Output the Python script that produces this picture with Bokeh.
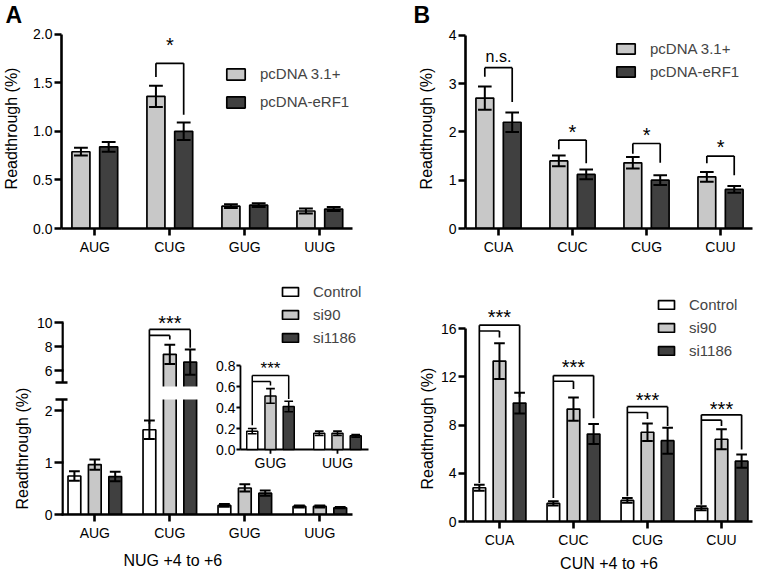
from bokeh.plotting import figure
from bokeh.models import (Range1d, FixedTicker, PrintfTickFormatter, Legend, LegendItem, Title)
from bokeh.core.properties import value
from bokeh.layouts import row, column
from bokeh.embed import file_html
from bokeh.resources import INLINE

# ---------------- data ----------------
# Panel A: NUG codons, eRF1 overexpression
a_codons = ["AUG", "CUG", "GUG", "UUG"]
a_pcdna31 = [0.79, 1.36, 0.23, 0.18]
a_pcdna31_err = [0.04, 0.11, 0.02, 0.025]
a_erf1 = [0.84, 1.00, 0.24, 0.20]
a_erf1_err = [0.05, 0.09, 0.02, 0.02]
a_yticks = [0.0, 0.5, 1.0, 1.5, 2.0]
a_sig_codon = ["CUG"]
a_sig_text = ["*"]
a_sig_top = [1.70]
a_sig_left_end = [1.56]
a_sig_right_end = [1.17]
a_sig_text_y = [1.886]

# Panel B: CUN codons, eRF1 overexpression
b_codons = ["CUA", "CUC", "CUG", "CUU"]
b_pcdna31 = [2.70, 1.40, 1.36, 1.07]
b_pcdna31_err = [0.24, 0.11, 0.12, 0.10]
b_erf1 = [2.20, 1.12, 1.00, 0.81]
b_erf1_err = [0.20, 0.10, 0.10, 0.07]
b_yticks = [0, 1, 2, 3, 4]
b_sig_codon = ["CUA", "CUC", "CUG", "CUU"]
b_sig_text = ["n.s.", "*", "*", "*"]
b_sig_top = [3.33, 1.83, 1.76, 1.50]
b_sig_left_end = [3.14, 1.64, 1.55, 1.35]
b_sig_right_end = [2.62, 1.35, 1.36, 1.10]
b_sig_text_y = [3.56, 2.00, 1.93, 1.68]

# Panel C: NUG codons, eRF1 knock-down (broken axis + inset)
c_codons = ["AUG", "CUG", "GUG", "UUG"]
c_control = [0.74, 1.63, 0.175, 0.155]
c_control_err = [0.09, 0.18, 0.025, 0.02]
c_si90 = [0.96, 7.35, 0.51, 0.155]
c_si90_err = [0.10, 0.80, 0.07, 0.02]
c_si1186 = [0.73, 6.70, 0.41, 0.13]
c_si1186_err = [0.09, 1.05, 0.05, 0.012]
c_yticks_low = [0, 1, 2]
c_yticks_high = [6, 8, 10]
c_break_low = 2.21    # top of lower axis segment
c_break_high = 5.0    # bottom of upper axis segment
c_sig_codon = ["CUG"]
c_sig_top = [9.42]
c_sig_inner = [8.92]
c_sig_inner_end = [8.58]
c_sig_left_end = [1.74]
c_sig_right_end = [7.89]
c_sig_text_y = [9.92]
inset_codons = ["GUG", "UUG"]
inset_yticks = [0.0, 0.2, 0.4, 0.6, 0.8]
inset_sig_codon = ["GUG"]
inset_sig_top = [0.705]
inset_sig_inner = [0.648]
inset_sig_inner_end = [0.61]
inset_sig_left_end = [0.23]
inset_sig_right_end = [0.48]
inset_sig_text_y = [0.771]

# Panel D: CUN codons, eRF1 knock-down
d_codons = ["CUA", "CUC", "CUG", "CUU"]
d_control = [2.80, 1.50, 1.75, 1.10]
d_control_err = [0.25, 0.18, 0.20, 0.17]
d_si90 = [13.30, 9.32, 7.40, 6.82]
d_si90_err = [1.48, 0.97, 0.72, 0.83]
d_si1186 = [9.82, 7.25, 6.70, 5.00]
d_si1186_err = [0.86, 0.83, 1.08, 0.55]
d_yticks = [0, 4, 8, 12, 16]
d_sig_top = [16.28, 12.10, 9.52, 8.85]
d_sig_inner = [15.80, 11.63, 9.04, 8.40]
d_sig_inner_end = [15.25, 10.99, 8.49, 7.93]
d_sig_left_end = [3.20, 1.95, 2.09, 1.39]
d_sig_right_end = [10.30, 8.57, 7.93, 5.98]
d_sig_text_y = [16.92, 12.83, 10.06, 9.29]

# ---------------- style ----------------
FONT = "Liberation Sans"
LIGHT = "#c8c8c8"
DARK = "#404040"
WHITE = "#ffffff"
AXW = 2.6
BAR_LW = 1.7
ERR_LW = 2.0
BR_LW = 1.7
STAR = "20px"


def base_fig(width, height, xr, yr, ml, mr, mt, mb, title=None):
    p = figure(width=width, height=height, x_range=Range1d(*xr), y_range=Range1d(*yr),
               output_backend="svg", toolbar_location=None, title=title,
               min_border_left=ml, min_border_right=mr, min_border_top=mt, min_border_bottom=mb)
    p.xgrid.visible = False
    p.ygrid.visible = False
    p.outline_line_color = None
    for ax in list(p.xaxis) + list(p.yaxis):
        ax.axis_line_width = AXW
        ax.axis_line_color = "black"
        ax.major_tick_line_width = AXW
        ax.major_tick_line_color = "black"
        ax.major_tick_out = 7
        ax.major_tick_in = 0
        ax.minor_tick_in = 0
        ax.minor_tick_out = 0
        ax.major_label_text_font = FONT
        ax.major_label_text_font_size = "14px"
        ax.major_label_text_color = "black"
        ax.axis_label_text_font = FONT
        ax.axis_label_text_font_size = "16px"
        ax.axis_label_text_font_style = "normal"
        ax.axis_label_text_color = "black"
    p.xaxis.major_label_standoff = 3
    p.yaxis.major_label_standoff = 2
    return p


def panel_letter(p, offset):
    t = p.title
    t.align = "left"
    t.offset = offset
    t.text_font = FONT
    t.text_font_size = "23px"
    t.text_font_style = "bold"
    t.text_color = "black"
    t.standoff = 0
    t.vertical_align = "middle"


def side_title(p, text, side, offset, standoff):
    # align "left" lets the offset move the title along its side
    p.add_layout(Title(text=text, align="left", offset=offset, standoff=standoff,
                       text_font=FONT, text_font_size="16px", text_font_style="normal",
                       text_color="black"), side)


def cat_axis(p, codons):
    p.xaxis.ticker = FixedTicker(ticks=list(range(len(codons))))
    p.xaxis.major_label_overrides = {i: c for i, c in enumerate(codons)}


def err_segments(xs, vals, errs, half):
    x0, y0, x1, y1 = [], [], [], []
    for x, v, e in zip(xs, vals, errs):
        lo, hi = v - e, v + e
        x0 += [x, x - half, x - half]
        x1 += [x, x + half, x + half]
        y0 += [lo, hi, lo]
        y1 += [hi, hi, lo]
    return dict(x0=x0, y0=y0, x1=x1, y1=y1)


def pair_brackets(xl, xr, top, lend, rend):
    x0, y0, x1, y1 = [], [], [], []
    for a, b, t, l, r in zip(xl, xr, top, lend, rend):
        x0 += [a, a, b]
        y0 += [t, t, t]
        x1 += [b, a, b]
        y1 += [t, l, r]
    return dict(x0=x0, y0=y0, x1=x1, y1=y1)


def triple_brackets(xa, xb, xc, top, inner, inner_end, lend, rend):
    x0, y0, x1, y1 = [], [], [], []
    for a, b, c, t, i, ie, l, r in zip(xa, xb, xc, top, inner, inner_end, lend, rend):
        x0 += [a, a, a, b, c]
        y0 += [t, i, t, i, t]
        x1 += [c, b, a, b, c]
        y1 += [t, i, l, ie, r]
    return dict(x0=x0, y0=y0, x1=x1, y1=y1)


def stars(p, xs, ys, texts, size, **kw):
    p.text(x=xs, y=ys, text=texts, text_font=value(FONT), text_font_size=value(size),
           text_align="center", text_baseline="alphabetic", text_color="black", **kw)


def make_legend(p, items, loc, gw, gh, spacing):
    leg = Legend(items=[LegendItem(label=l, renderers=[r]) for l, r in items],
                 location=loc, orientation="vertical", glyph_width=gw, glyph_height=gh,
                 label_text_font=FONT, label_text_font_size="15px", label_standoff=13,
                 label_height=gh, spacing=spacing, padding=0, margin=0,
                 border_line_color=None, background_fill_alpha=0)
    p.add_layout(leg, "center")


# ---------------- two-series panels (A, B) ----------------
def two_series_panel(width, xr, yr, ml, mr, codons, s1, e1, s2, e2, yticks, ybounds, xbounds,
                     sig_codon, sig_text, sig_top, sig_l, sig_r, sig_ty, leg_loc, leg_gh, leg_sp, letter):
    p = base_fig(width, 268, xr, yr, ml, mr, 28, 40, title=letter)
    cat_axis(p, codons)
    p.yaxis.ticker = FixedTicker(ticks=yticks)
    p.yaxis.bounds = ybounds
    if xbounds is not None:
        p.xaxis.bounds = xbounds
    off, bw, half = 0.185, 0.24, 0.092
    xs = list(range(len(codons)))
    x1 = [x - off for x in xs]
    x2 = [x + off for x in xs]
    r1 = p.vbar(x=x1, top=s1, bottom=0, width=bw, fill_color=LIGHT, line_color="black", line_width=BAR_LW)
    r2 = p.vbar(x=x2, top=s2, bottom=0, width=bw, fill_color=DARK, line_color="black", line_width=BAR_LW)
    p.segment(line_color="black", line_width=ERR_LW, **err_segments(x1, s1, e1, half))
    p.segment(line_color="black", line_width=ERR_LW, **err_segments(x2, s2, e2, half))
    ci = [codons.index(c) for c in sig_codon]
    p.segment(line_color="black", line_width=BR_LW,
              **pair_brackets([i - off for i in ci], [i + off for i in ci], sig_top, sig_l, sig_r))
    star_i = [k for k, t in enumerate(sig_text) if t != "n.s."]
    ns_i = [k for k, t in enumerate(sig_text) if t == "n.s."]
    if star_i:
        stars(p, [ci[k] for k in star_i], [sig_ty[k] for k in star_i], [sig_text[k] for k in star_i], STAR)
    if ns_i:
        stars(p, [ci[k] for k in ns_i], [sig_ty[k] for k in ns_i], [sig_text[k] for k in ns_i], "16px")
    make_legend(p, [("pcDNA 3.1+", r1), ("pcDNA-eRF1", r2)], leg_loc, 23, leg_gh, leg_sp)
    p.yaxis.axis_label = "Readthrough (%)"
    return p


pa = two_series_panel(388, (-0.444, 3.809), (0, 2.058), 61, 8, a_codons,
                      a_pcdna31, a_pcdna31_err, a_erf1, a_erf1_err, a_yticks, (0, 2.0), (-0.444, 3.432),
                      a_sig_codon, a_sig_text, a_sig_top, a_sig_left_end, a_sig_right_end, a_sig_text_y,
                      (163, 118), 14, 11, "A")
pa.yaxis.formatter = PrintfTickFormatter(format="%.1f")
pa.yaxis.axis_label_standoff = 10
panel_letter(pa, -56)

pb = two_series_panel(372, (-0.446, 3.432), (0, 4.141), 77, 8, b_codons,
                      b_pcdna31, b_pcdna31_err, b_erf1, b_erf1_err, b_yticks, (0, 4), None,
                      b_sig_codon, b_sig_text, b_sig_top, b_sig_left_end, b_sig_right_end, b_sig_text_y,
                      (149, 148), 13, 6, "B")
pb.yaxis.axis_label_standoff = 11
panel_letter(pb, -52)

# ---------------- three-series bars helper ----------------
OFF3, BW3, HALF3 = 0.272, 0.17, 0.072

# ---------------- Panel C ----------------
c_xr = (-0.444, 3.809)
c_yr = (0, 4.654)
c_up = (-6.0, 14.167)        # scale of the upper (broken) segment, same frame
c_ix = (-3.119, 1.642)       # inset x scale
c_iy = (-0.619, 1.686)       # inset y scale
pc = base_fig(388, 308, c_xr, c_yr, 61, 8, 4, 62)
pc.extra_y_ranges = {"up": Range1d(*c_up), "iy": Range1d(*c_iy)}
pc.extra_x_ranges = {"ix": Range1d(*c_ix)}
cat_axis(pc, c_codons)
pc.xaxis.bounds = (c_xr[0], 3.432)


def up_to_main(u):
    return c_yr[0] + (u - c_up[0]) * (c_yr[1] - c_yr[0]) / (c_up[1] - c_up[0])


def main_to_up(v):
    return c_up[0] + (v - c_yr[0]) * (c_up[1] - c_up[0]) / (c_yr[1] - c_yr[0])


hi_pos = [up_to_main(t) for t in c_yticks_high]
tick_pos = [float(t) for t in c_yticks_low] + hi_pos
tick_txt = [str(t) for t in c_yticks_low] + [str(t) for t in c_yticks_high]
brk_hi_main = up_to_main(c_break_high)
pc.yaxis.ticker = FixedTicker(ticks=tick_pos, minor_ticks=[c_break_low, brk_hi_main])
pc.yaxis.major_label_overrides = {t: s for t, s in zip(tick_pos, tick_txt)}
pc.yaxis.bounds = (0, hi_pos[-1])
pc.yaxis.axis_line_alpha = 0
pc.yaxis.major_tick_in = 2
pc.yaxis.minor_tick_in = 6
pc.yaxis.minor_tick_out = 6
pc.yaxis.minor_tick_line_width = AXW
pc.yaxis.minor_tick_line_color = "black"
axis_x = c_xr[0] + 1.0 / 75.0
pc.segment(x0=[axis_x, axis_x], y0=[0, brk_hi_main], x1=[axis_x, axis_x], y1=[c_break_low, hi_pos[-1]],
           line_color="black", line_width=AXW)

xs = list(range(len(c_codons)))
cx = [[x - OFF3 for x in xs], [x for x in xs], [x + OFF3 for x in xs]]
series = [(c_control, c_control_err, WHITE), (c_si90, c_si90_err, LIGHT), (c_si1186, c_si1186_err, DARK)]
renderers = []
gap_l, gap_r = [], []
for (vals, errs, col), xx in zip(series, cx):
    low_top = [v if v <= c_break_low else c_break_low + 0.09 for v in vals]
    r = pc.vbar(x=xx, top=low_top, bottom=0, width=BW3, fill_color=col, line_color="black", line_width=BAR_LW)
    renderers.append(r)
    hi_idx = [k for k, v in enumerate(vals) if v > c_break_low]
    if hi_idx:
        pc.vbar(x=[xx[k] for k in hi_idx], top=[vals[k] for k in hi_idx], bottom=4.4, width=BW3,
                fill_color=col, line_color="black", line_width=BAR_LW, y_range_name="up")
        gap_l += [xx[k] - BW3 / 2 - 0.03 for k in hi_idx]
        gap_r += [xx[k] + BW3 / 2 + 0.03 for k in hi_idx]
if gap_l:
    pc.quad(left=[min(gap_l)], right=[max(gap_r)], bottom=[c_break_low], top=[up_to_main(4.67)],
            fill_color="white", line_color=None)
for (vals, errs, col), xx in zip(series, cx):
    lo_idx = [k for k, v in enumerate(vals) if v <= c_break_low]
    hi_idx = [k for k, v in enumerate(vals) if v > c_break_low]
    pc.segment(line_color="black", line_width=ERR_LW,
               **err_segments([xx[k] for k in lo_idx], [vals[k] for k in lo_idx], [errs[k] for k in lo_idx], HALF3))
    if hi_idx:
        pc.segment(line_color="black", line_width=ERR_LW, y_range_name="up",
                   **err_segments([xx[k] for k in hi_idx], [vals[k] for k in hi_idx], [errs[k] for k in hi_idx], HALF3))

ci = [c_codons.index(c) for c in c_sig_codon]
pc.segment(line_color="black", line_width=BR_LW, y_range_name="up",
           **triple_brackets([i - OFF3 for i in ci], [i for i in ci], [i + OFF3 for i in ci],
                             c_sig_top, c_sig_inner, c_sig_inner_end,
                             [main_to_up(v) for v in c_sig_left_end], c_sig_right_end))
stars(pc, ci, c_sig_text_y, ["***"] * len(ci), STAR, y_range_name="up")

# inset
ii = [c_codons.index(c) for c in inset_codons]
ixs = list(range(len(inset_codons)))
IOFF, IBW, IHALF = 0.272, 0.165, 0.065
ix_axis_l, ix_axis_r = -0.448, 1.463
pc.segment(x0=[ix_axis_l, ix_axis_l], y0=[0, 0], x1=[ix_axis_l, ix_axis_r], y1=[inset_yticks[-1], 0],
           line_color="black", line_width=1.8, x_range_name="ix", y_range_name="iy")
pc.segment(x0=[ix_axis_l - 0.06] * len(inset_yticks), y0=inset_yticks, x1=[ix_axis_l] * len(inset_yticks),
           y1=inset_yticks, line_color="black", line_width=1.8, x_range_name="ix", y_range_name="iy")
pc.segment(x0=ixs, y0=[0] * len(ixs), x1=ixs, y1=[-0.04] * len(ixs), line_color="black", line_width=1.8,
           x_range_name="ix", y_range_name="iy")
pc.text(x=[ix_axis_l - 0.075] * len(inset_yticks), y=inset_yticks, text=["%.1f" % t for t in inset_yticks],
        text_font=value(FONT), text_font_size=value("14px"), text_align="right", text_baseline="middle",
        x_range_name="ix", y_range_name="iy")
pc.text(x=ixs, y=[-0.055] * len(ixs), text=inset_codons, text_font=value(FONT), text_font_size=value("14px"),
        text_align="center", text_baseline="top", x_range_name="ix", y_range_name="iy")
icx = [[x - IOFF for x in ixs], ixs, [x + IOFF for x in ixs]]
for (vals, errs, col), xx in zip(series, icx):
    iv = [vals[k] for k in ii]
    ie = [errs[k] for k in ii]
    pc.vbar(x=xx, top=iv, bottom=0, width=IBW, fill_color=col, line_color="black", line_width=1.5,
            x_range_name="ix", y_range_name="iy")
    pc.segment(line_color="black", line_width=1.6, x_range_name="ix", y_range_name="iy",
               **err_segments(xx, iv, ie, IHALF))
isi = [inset_codons.index(c) for c in inset_sig_codon]
pc.segment(line_color="black", line_width=1.5, x_range_name="ix", y_range_name="iy",
           **triple_brackets([i - IOFF for i in isi], isi, [i + IOFF for i in isi],
                             inset_sig_top, inset_sig_inner, inset_sig_inner_end,
                             inset_sig_left_end, inset_sig_right_end))
stars(pc, isi, inset_sig_text_y, ["***"] * len(isi), "17px", x_range_name="ix", y_range_name="iy")

make_legend(pc, [("Control", renderers[0]), ("si90", renderers[1]), ("si1186", renderers[2])],
            (219, 168), 20, 11, 6)
side_title(pc, "Readthrough (%)", "left", 5, 6)
side_title(pc, "NUG +4 to +6", "below", 62, 12)

# ---------------- Panel D ----------------
pd_ = base_fig(372, 308, (-0.459, 3.419), (0, 19.82), 77, 8, 14, 55)
cat_axis(pd_, d_codons)
pd_.yaxis.ticker = FixedTicker(ticks=d_yticks)
pd_.yaxis.bounds = (0, 16)
xs = list(range(len(d_codons)))
dx = [[x - OFF3 for x in xs], xs, [x + OFF3 for x in xs]]
dseries = [(d_control, d_control_err, WHITE), (d_si90, d_si90_err, LIGHT), (d_si1186, d_si1186_err, DARK)]
drs = []
for (vals, errs, col), xx in zip(dseries, dx):
    drs.append(pd_.vbar(x=xx, top=vals, bottom=0, width=BW3, fill_color=col, line_color="black",
                        line_width=BAR_LW))
for (vals, errs, col), xx in zip(dseries, dx):
    pd_.segment(line_color="black", line_width=ERR_LW, **err_segments(xx, vals, errs, HALF3))
pd_.segment(line_color="black", line_width=BR_LW,
            **triple_brackets(dx[0], dx[1], dx[2], d_sig_top, d_sig_inner, d_sig_inner_end,
                              d_sig_left_end, d_sig_right_end))
stars(pd_, xs, d_sig_text_y, ["***"] * len(xs), STAR)
make_legend(pd_, [("Control", drs[0]), ("si90", drs[1]), ("si1186", drs[2])], (191, 162), 20, 11, 6)
side_title(pd_, "Readthrough (%)", "left", 32, 3)
pd_.xaxis.axis_label = "CUN +4 to +6"
pd_.xaxis.axis_label_standoff = 4

layout = row(column(pa, pc), column(pb, pd_))
open("out.html", "w").write(file_html(layout, INLINE))
